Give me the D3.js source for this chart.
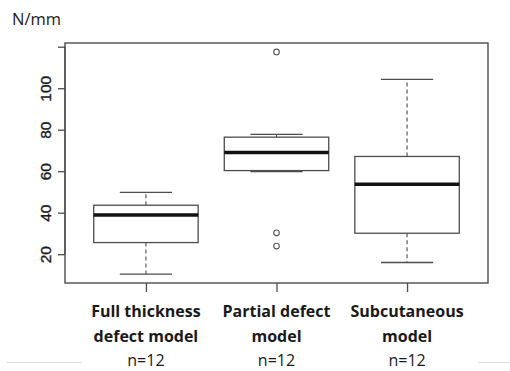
<!DOCTYPE html>
<html lang="en">
<head>
    <meta charset="UTF-8">
    <title>Boxplot N/mm</title>
    <script src="https://d3js.org/d3.v7.min.js"></script>
    <style>
        body { margin: 0; background: #fff; }
        svg { display: block; }
    </style>
</head>
<body>
    <div id="chart"></div>

    <script>
        // values (N/mm)
        const groupLabels = [
            ["Full thickness", "defect model"],
            ["Partial defect", "model"],
            ["Subcutaneous", "model"]
        ];
        const sampleSizes = [12, 12, 12];
        const lowerWhisker = [10.4, 59.8, 16.0];
        const q1 = [25.6, 60.3, 30.1];
        const median = [38.9, 69.0, 53.7];
        const q3 = [43.6, 76.4, 67.1];
        const upperWhisker = [49.8, 77.7, 104.3];
        const outliers = [[], [117.5, 30.3, 23.9], []];
        const yTicks = [20, 40, 60, 80, 100, 120];
        const yTickLabels = [20, 40, 60, 80, 100];

        const width = 510, height = 371;
        const plot = { left: 65, right: 488, top: 43, bottom: 283 };

        const svg = d3.select("#chart").append("svg")
            .attr("width", width)
            .attr("height", height);

        // R style limits: data range padded 4%
        const allVals = lowerWhisker.concat(upperWhisker, outliers.flat());
        const lo = d3.min(allVals), hi = d3.max(allVals);
        const pad = (hi - lo) * 0.04;
        const y = d3.scaleLinear().domain([lo - pad, hi + pad]).range([plot.bottom, plot.top]);
        const n = groupLabels.length;
        const xPad = n * 0.04;
        const x = d3.scaleLinear().domain([0.5 - xPad, n + 0.5 + xPad]).range([plot.left, plot.right]);

        const boxW = 0.8, capW = 0.4;
        const lineCol = "#4d4d4d";

        const groups = d3.range(n).map(i => ({
            i, pos: i + 1,
            lw: lowerWhisker[i], q1: q1[i], med: median[i], q3: q3[i], uw: upperWhisker[i],
            out: outliers[i]
        }));

        const g = svg.append("g");

        // whiskers (dashed)
        g.selectAll(".wh-lo").data(groups).enter().append("line")
            .attr("x1", d => x(d.pos)).attr("x2", d => x(d.pos))
            .attr("y1", d => y(d.q1)).attr("y2", d => y(d.lw))
            .attr("stroke", lineCol).attr("stroke-width", 1.1)
            .attr("stroke-dasharray", "4,3");
        g.selectAll(".wh-hi").data(groups).enter().append("line")
            .attr("x1", d => x(d.pos)).attr("x2", d => x(d.pos))
            .attr("y1", d => y(d.q3)).attr("y2", d => y(d.uw))
            .attr("stroke", lineCol).attr("stroke-width", 1.1)
            .attr("stroke-dasharray", "4,3");

        // staples
        ["lw", "uw"].forEach(k => {
            g.selectAll(".cap-" + k).data(groups).enter().append("line")
                .attr("x1", d => x(d.pos - capW / 2)).attr("x2", d => x(d.pos + capW / 2))
                .attr("y1", d => y(d[k])).attr("y2", d => y(d[k]))
                .attr("stroke", lineCol).attr("stroke-width", 1.3);
        });

        // boxes
        g.selectAll(".box").data(groups).enter().append("rect")
            .attr("x", d => x(d.pos - boxW / 2))
            .attr("width", d => x(d.pos + boxW / 2) - x(d.pos - boxW / 2))
            .attr("y", d => y(d.q3))
            .attr("height", d => y(d.q1) - y(d.q3))
            .attr("fill", "#fff")
            .attr("stroke", lineCol).attr("stroke-width", 1.3);

        // medians
        g.selectAll(".med").data(groups).enter().append("line")
            .attr("x1", d => x(d.pos - boxW / 2)).attr("x2", d => x(d.pos + boxW / 2))
            .attr("y1", d => y(d.med)).attr("y2", d => y(d.med))
            .attr("stroke", "#111").attr("stroke-width", 3.5);

        // outliers
        const outPts = groups.flatMap(d => d.out.map(v => ({ pos: d.pos, v })));
        g.selectAll(".out").data(outPts).enter().append("circle")
            .attr("cx", d => x(d.pos)).attr("cy", d => y(d.v))
            .attr("r", 2.8)
            .attr("fill", "none").attr("stroke", "#555").attr("stroke-width", 1.1);

        // plot frame
        svg.append("rect")
            .attr("x", plot.left).attr("y", plot.top)
            .attr("width", plot.right - plot.left).attr("height", plot.bottom - plot.top)
            .attr("fill", "none").attr("stroke", lineCol).attr("stroke-width", 1.4);

        // y axis
        const yAxis = d3.axisLeft(y).tickValues(yTicks).tickSize(7)
            .tickFormat(d => yTickLabels.includes(d) ? d : "");
        const ya = svg.append("g").attr("transform", `translate(${plot.left},0)`).call(yAxis);
        ya.select(".domain").remove();
        ya.selectAll(".tick line").attr("stroke", lineCol).attr("stroke-width", 1.3);
        ya.selectAll(".tick text")
            .attr("x", null).attr("dy", null)
            .attr("transform", "translate(-20,0) rotate(-90)")
            .attr("text-anchor", "middle")
            .attr("dy", "0.36em")
            .attr("font-family", "Liberation Sans, Arial, sans-serif")
            .attr("font-size", 15.5)
            .attr("fill", "#1a1a1a")
            .attr("stroke", "#1a1a1a")
            .attr("stroke-width", 0.35);
        svg.append("line")
            .attr("x1", plot.left).attr("x2", plot.left)
            .attr("y1", y(d3.min(yTicks))).attr("y2", y(d3.max(yTicks)))
            .attr("stroke", lineCol).attr("stroke-width", 1.3);

        // x axis ticks
        const xa = svg.append("g").attr("transform", `translate(0,${plot.bottom})`)
            .call(d3.axisBottom(x).tickValues(d3.range(1, n + 1)).tickSize(9).tickFormat(""));
        xa.select(".domain").remove();
        xa.selectAll(".tick line").attr("stroke", lineCol).attr("stroke-width", 1.3);

        // unit title
        svg.append("text")
            .attr("x", 12).attr("y", 25)
            .attr("font-family", "Open Sans, sans-serif")
            .attr("font-size", 16.5)
            .attr("fill", "#1a1a1a")
            .text("N/mm");

        // category labels
        const lab = svg.append("g")
            .attr("font-family", "Open Sans, sans-serif")
            .attr("font-size", 16)
            .attr("fill", "#1a1a1a")
            .attr("text-anchor", "middle");
        groups.forEach(d => {
            groupLabels[d.i].forEach((line, k) => {
                lab.append("text")
                    .attr("x", x(d.pos)).attr("y", 317 + k * 25)
                    .attr("font-weight", "bold")
                    .text(line);
            });
            lab.append("text")
                .attr("x", x(d.pos)).attr("y", 366)
                .text("n=" + sampleSizes[d.i]);
        });

        // faint slide separators
        svg.append("line").attr("x1", 7).attr("x2", 82).attr("y1", 362.5).attr("y2", 362.5)
            .attr("stroke", "#ddd").attr("stroke-width", 1);
        svg.append("line").attr("x1", 478).attr("x2", 510).attr("y1", 362.5).attr("y2", 362.5)
            .attr("stroke", "#ddd").attr("stroke-width", 1);
    </script>
</body>
</html>
